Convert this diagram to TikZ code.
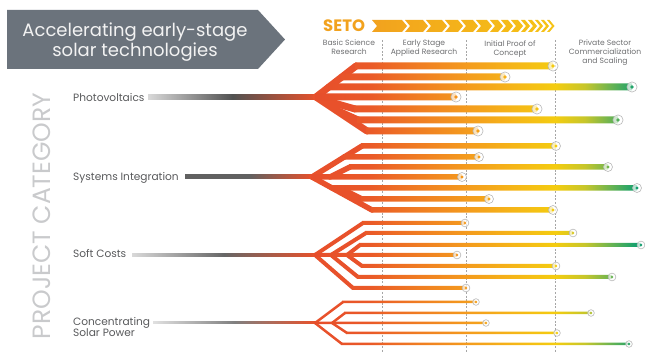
\documentclass[tikz,border=0pt]{standalone}
\usepackage{fontspec}
\setmainfont{Poppins}

\definecolor{bannergrey}{HTML}{6B737C}
\definecolor{textgrey}{HTML}{58595B}
\definecolor{stagegrey}{HTML}{6D6E70}
\definecolor{axisgrey}{HTML}{C9CACC}
\definecolor{setoorange}{HTML}{F2A21E}
\definecolor{chevlight}{HTML}{F6C416}
\definecolor{limbred}{HTML}{E8512B}
\definecolor{bar0}{HTML}{E54A2C}
\definecolor{bar1}{HTML}{EA5A28}
\definecolor{bar2}{HTML}{F07E22}
\definecolor{bar3}{HTML}{F49D1D}
\definecolor{bar4}{HTML}{F5B917}
\definecolor{bar5}{HTML}{F4CC10}
\definecolor{bar6}{HTML}{C6C62B}
\definecolor{bar7}{HTML}{6CB451}
\definecolor{bar8}{HTML}{16A16D}
\definecolor{bar9}{HTML}{0B996E}

\pgfdeclarehorizontalshading{barshade}{100bp}{color(0bp)=(bar0); color(25bp)=(bar0);
  color(35.14bp)=(bar1); color(42.39bp)=(bar2); color(49.64bp)=(bar3); color(56.88bp)=(bar4);
  color(61.96bp)=(bar5); color(66.3bp)=(bar6); color(69.93bp)=(bar7); color(73.55bp)=(bar8);
  color(75bp)=(bar9); color(100bp)=(bar9)}

\tikzset{
  limb/.style={draw=limbred, line width=#1pt, line cap=round, line join=round},
  stagesep/.style={draw=black!35, line width=.6pt, dash pattern=on 2pt off 1.6pt},
  bannertext/.style={anchor=base, inner sep=0pt, text=white!95!black, font=\fontsize{18}{20}\selectfont},
  catlabel/.style={anchor=base west, inner sep=0pt, text=textgrey, font=\fontsize{10.6}{11.8}\selectfont, align=left},
  stagelabel/.style={anchor=north, inner sep=0pt, text=stagegrey, font=\fontsize{7.6}{9}\selectfont, align=center},
  endring/.style={fill=white, fill opacity=.7, draw=black!28, line width=.6pt},
}

%% width / fork x / fork y / knee x / bar y / end x
\newcommand\barlist{
  7/316/97/356/66/553, 7/342/77/342/77/505, 7/329/87/329/87/632, 7/316/97/316/97/456,
  7/320/99/355/109/537, 7/336/110/358/120/618, 7/316/97/367/131/478,
  5.5/312/177/362/146/556, 5.5/344/157/344/157/479, 5.5/330/177/350/167/608,
  5.5/312/177/312/177/462, 5.5/332/188/332/188/637, 5.5/340/188/362/199/489,
  5.5/312/177/372/210/553,
  4/315/255/363/223/465, 4/331/255/366/233/573, 4/347/255/360/245/641,
  4/315/255/315/255/457, 4/347/255/362/266/556, 4/331/255/358/277/612,
  4/315/255/353/288/466,
  2.5/315/323/343/302/476, 2.5/332/323/345/313/591, 2.5/315/323/315/323/486,
  2.5/332/323/347/333/557, 2.5/315/323/342/344/629}

\begin{document}
\begin{tikzpicture}[x=1pt,y=-1pt]
  \useasboundingbox (0,0) rectangle (645,352);
  %% Banner
  \fill[bannergrey] (7,10) -- (258,10) -- (285,39.5) -- (258,69) -- (7,69) -- cycle;
  \node[bannertext] (title1) at (135,37) {Accelerating early-stage};
  \node[bannertext] (title2) at (135,57) {solar technologies};
  %% SETO and chevrons
  \node[anchor=base west, inner sep=0pt, text=setoorange, font=\fontsize{16.5}{18}\selectfont\bfseries] (seto) at (323,32) {SETO};
  \begin{scope}
    \clip \foreach \a/\t in {372/30, 405/18, 426/16, 445/13, 461/12, 476/11, 490/8, 501/7,
        511/7, 521/4, 528/4, 535/3, 541/3, 547/2.5}
      {(\a,20) -- (\a+\t,20) -- (\a+\t+5,26) -- (\a+\t,32) -- (\a,32) -- (\a+5,26) -- cycle};
    \shade[left color=setoorange, right color=chevlight] (372,20) rectangle (556,32);
  \end{scope}
  %% Stage separators and labels
  \foreach \x in {382,466,555} \draw[stagesep] (\x,40) -- (\x,352);
  \node[stagelabel] (basic) at (349,40) {Basic Science\\Research};
  \node[stagelabel] (early) at (424,40) {Early Stage\\Applied Research};
  \node[stagelabel] (proof) at (510,40) {Initial Proof of\\Concept};
  \node[stagelabel] (private) at (605,40) {Private Sector\\Commercialization\\and Scaling};
  %% Axis title
  \node[rotate=90, inner sep=0pt, text=axisgrey, font=\fontsize{25}{27}\selectfont] (axis) at (42,216) {PROJECT CATEGORY};
  %% Category labels
  \node[catlabel] (pv) at (73,102) {Photovoltaics};
  \node[catlabel] (si) at (73,181) {Systems Integration};
  \node[catlabel] (sc) at (73,258) {Soft Costs};
  \node[catlabel] (csp) at (73,337) {Concentrating\\Solar Power};
  %% Trunks
  \foreach \x/\y/\w/\cs/\cm/\fx in {148/97/4.5/black!15/black!68/316, 185/177/4/black!62/black!62/312,
      132/255/3/black!15/black!60/315, 153/323/2/black!12/black!50/315}
    \shade[left color=\cs, right color=limbred, middle color=\cm] (\x,\y-\w/2) rectangle (\fx+1,\y+\w/2);
  %% Limbs
  \foreach \w/\sx/\sy/\kx/\y/\ex in \barlist \draw[limb=\w] (\sx,\sy) -- (\kx,\y);
  %% Bars
  \begin{scope}
    \clip \foreach \w/\sx/\sy/\kx/\y/\ex in \barlist {(\kx-1,\y-\w/2) rectangle (\ex,\y+\w/2)};
    \shade[shading=barshade] (300,30) rectangle (645,352);
  \end{scope}
  %% End markers
  \foreach \w/\sx/\sy/\kx/\y/\ex in \barlist \filldraw[endring] (\ex,\y) circle ({0.4*\w+2.3});
  \begin{scope}
    \clip \foreach \w/\sx/\sy/\kx/\y/\ex in \barlist {(\ex,\y) circle ({0.12*\w+1})};
    \shade[shading=barshade] (300,30) rectangle (645,352);
  \end{scope}
\end{tikzpicture}
\end{document}
